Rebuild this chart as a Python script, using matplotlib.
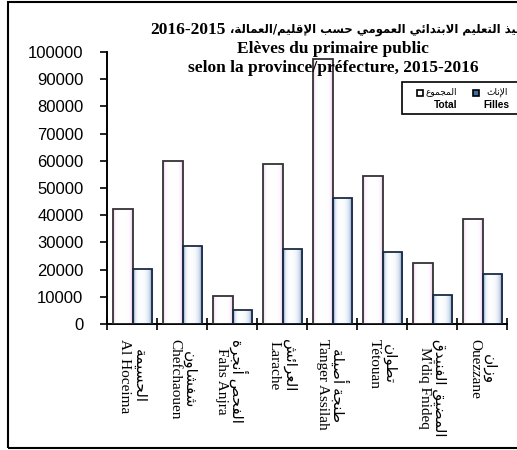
import numpy as np
import matplotlib
matplotlib.use("Agg")
import matplotlib.pyplot as plt
from matplotlib.patches import Rectangle

# data
provinces_fr = ["Al Hoceima", "Chefchaouen", "Fahs Anjra", "Larache",
                "Tanger Assilah", "Tétouan", "M'diq Fnideq", "Ouezzane"]
provinces_ar = ["الحسيمة", "شفشاون", "الفحص أنجرة", "العرائش",
                "طنجة أصيلة", "تطوان", "المضيق الفنيدق", "وزان"]
total = [42300, 59900, 10300, 58800, 97300, 54400, 22400, 38600]
filles = [20200, 28700, 5150, 27600, 46300, 26500, 10700, 18400]
y_ticks = list(range(0, 100001, 10000))

title_ar = "تلاميذ التعليم الابتدائي العمومي حسب الإقليم/العمالة،"
title_years = "2016-2015"
title_fr = ["Elèves du primaire public", "selon la province/préfecture, 2015-2016"]
legend_ar = ["المجموع", "الإناث"]
legend_fr = ["Total", "Filles"]

# minimal arabic shaping (matplotlib has no shaping / bidi)
FORMS = {
    "ء": (0xFE80, 1), "آ": (0xFE81, 2), "أ": (0xFE83, 2), "ؤ": (0xFE85, 2),
    "إ": (0xFE87, 2), "ئ": (0xFE89, 4), "ا": (0xFE8D, 2), "ب": (0xFE8F, 4),
    "ة": (0xFE93, 2), "ت": (0xFE95, 4), "ث": (0xFE99, 4), "ج": (0xFE9D, 4),
    "ح": (0xFEA1, 4), "خ": (0xFEA5, 4), "د": (0xFEA9, 2), "ذ": (0xFEAB, 2),
    "ر": (0xFEAD, 2), "ز": (0xFEAF, 2), "س": (0xFEB1, 4), "ش": (0xFEB5, 4),
    "ص": (0xFEB9, 4), "ض": (0xFEBD, 4), "ط": (0xFEC1, 4), "ظ": (0xFEC5, 4),
    "ع": (0xFEC9, 4), "غ": (0xFECD, 4), "ف": (0xFED1, 4), "ق": (0xFED5, 4),
    "ك": (0xFED9, 4), "ل": (0xFEDD, 4), "م": (0xFEE1, 4), "ن": (0xFEE5, 4),
    "ه": (0xFEE9, 4), "و": (0xFEED, 2), "ى": (0xFEEF, 2), "ي": (0xFEF1, 4),
}
LAM_ALEF = {"آ": 0xFEF5, "أ": 0xFEF7, "إ": 0xFEF9, "ا": 0xFEFB}


def shape(s):
    out = []
    i = 0
    while i < len(s):
        c = s[i]
        prev = s[i - 1] if i > 0 else ""
        joins_prev = int(FORMS.get(prev, (0, 1))[1] == 4)
        if c == "ل" and i + 1 < len(s) and s[i + 1] in LAM_ALEF:
            out.append(chr(LAM_ALEF[s[i + 1]] + joins_prev))
            i += 2
            continue
        if c not in FORMS:
            out.append(c)
            i += 1
            continue
        base, n = FORMS[c]
        nxt = s[i + 1] if i + 1 < len(s) else ""
        joins_next = int(n == 4 and nxt in FORMS and nxt != "ء")
        if n == 1:
            out.append(chr(base))
        elif n == 2:
            out.append(chr(base + joins_prev))
        else:
            out.append(chr(base + joins_prev + 2 * joins_next))
        i += 1
    return "".join(out)


def ar(s):
    return shape(s)[::-1]


def gradient(ax, bars, rgb, lw, rw, strength):
    t = np.linspace(0, 1, 80)
    w = np.maximum(np.exp(-t / lw), np.exp(-(1 - t) / rw)) * strength
    img = 1 - w[None, :, None] * (1 - np.array(rgb)[None, None, :])
    for b in bars:
        x0 = b.get_x()
        im = ax.imshow(img, extent=(x0, x0 + b.get_width(), 0, b.get_height()),
                       aspect="auto", interpolation="bilinear", zorder=2)
        im.set_clip_path(b)


W, H = 517, 450
fig = plt.figure(figsize=(W / 100, H / 100), dpi=100)
ax = fig.add_axes([107 / W, 1 - 324 / H, 400 / W, 272 / H])

x = np.arange(len(total))
bw = 0.39
b_tot = ax.bar(x - 0.18, total, bw, facecolor="none", edgecolor="#333333", linewidth=1.3, zorder=3)
b_fil = ax.bar(x + 0.21, filles, bw, facecolor="none", edgecolor="#1c2c44", linewidth=1.3, zorder=3)
gradient(ax, b_tot, (0.88, 0.55, 0.88), 0.06, 0.07, 0.75)
gradient(ax, b_fil, (0.22, 0.42, 0.68), 0.07, 0.13, 1.0)

ax.set_xlim(-0.5, len(total) - 0.5)
ax.set_ylim(0, 100000)

for s in ["top", "right"]:
    ax.spines[s].set_visible(False)
ax.spines["left"].set_linewidth(1.4)
ax.spines["bottom"].set_linewidth(1.4)

ax.set_yticks(y_ticks)
ax.set_yticklabels([str(v) for v in y_ticks], family="Liberation Sans", fontsize=12)
ax.tick_params(axis="y", direction="out", length=5, width=1.2, pad=12)

ax.set_xticks(np.arange(-0.5, len(total), 1))
ax.set_xticklabels([])
ax.tick_params(axis="x", which="major", direction="inout", length=8, width=1.2)
ax.set_xticks(x, minor=True)
ax.set_xticklabels([ar(a) + "\n" + f for a, f in zip(provinces_ar, provinces_fr)], minor=True,
                   rotation=-90, va="top", ha="center", multialignment="center",
                   family=["Liberation Serif", "DejaVu Sans"], fontsize=11, linespacing=1.1)
ax.tick_params(axis="x", which="minor", length=0, pad=11)

# titles
serif = ["Liberation Serif", "DejaVu Sans"]
fig.text(150 / W, 1 - 30 / H, title_years, ha="left", va="center",
         family=serif, fontweight="bold", fontsize=12.5)
fig.text(230 / W, 1 - 30 / H, ar(title_ar), ha="left", va="center",
         family="DejaVu Sans", fontweight="bold", fontsize=8.4)
fig.text(333 / W, 1 - 49 / H, title_fr[0], ha="center", va="center",
         family=serif, fontweight="bold", fontsize=12.5)
fig.text(333 / W, 1 - 68 / H, title_fr[1], ha="center", va="center",
         family=serif, fontweight="bold", fontsize=12.5)

# legend drawn by hand (right-to-left layout)
fig.patches.append(Rectangle((402 / W, 1 - 114 / H), 130 / W, 32 / H, transform=fig.transFigure,
                             facecolor="white", edgecolor="black", linewidth=1.2, zorder=5))
fig.patches.append(Rectangle((417 / W, 1 - 96 / H), 6 / W, 6 / H, transform=fig.transFigure,
                             facecolor="white", edgecolor="black", linewidth=1.2, zorder=6))
fig.patches.append(Rectangle((473 / W, 1 - 96 / H), 6 / W, 6 / H, transform=fig.transFigure,
                             facecolor="#3d6fa8", edgecolor="black", linewidth=1.2, zorder=6))
fig.text(425 / W, 1 - 92 / H, ar(legend_ar[0]), ha="left", va="center",
         family="DejaVu Sans", fontsize=6.5, zorder=7)
fig.text(486 / W, 1 - 92 / H, ar(legend_ar[1]), ha="left", va="center",
         family="DejaVu Sans", fontsize=6.5, zorder=7)
fig.text(457 / W, 1 - 105 / H, legend_fr[0], ha="right", va="center",
         family="Liberation Sans", fontweight="bold", fontsize=7.3, zorder=7)
fig.text(509 / W, 1 - 105 / H, legend_fr[1], ha="right", va="center",
         family="Liberation Sans", fontweight="bold", fontsize=7.3, zorder=7)

# outer frame
fig.patches.append(Rectangle((8 / W, 2 / H), 540 / W, 446 / H, transform=fig.transFigure,
                             facecolor="none", edgecolor="black", linewidth=1.5, zorder=8))

fig.savefig("out.png", dpi=100)
